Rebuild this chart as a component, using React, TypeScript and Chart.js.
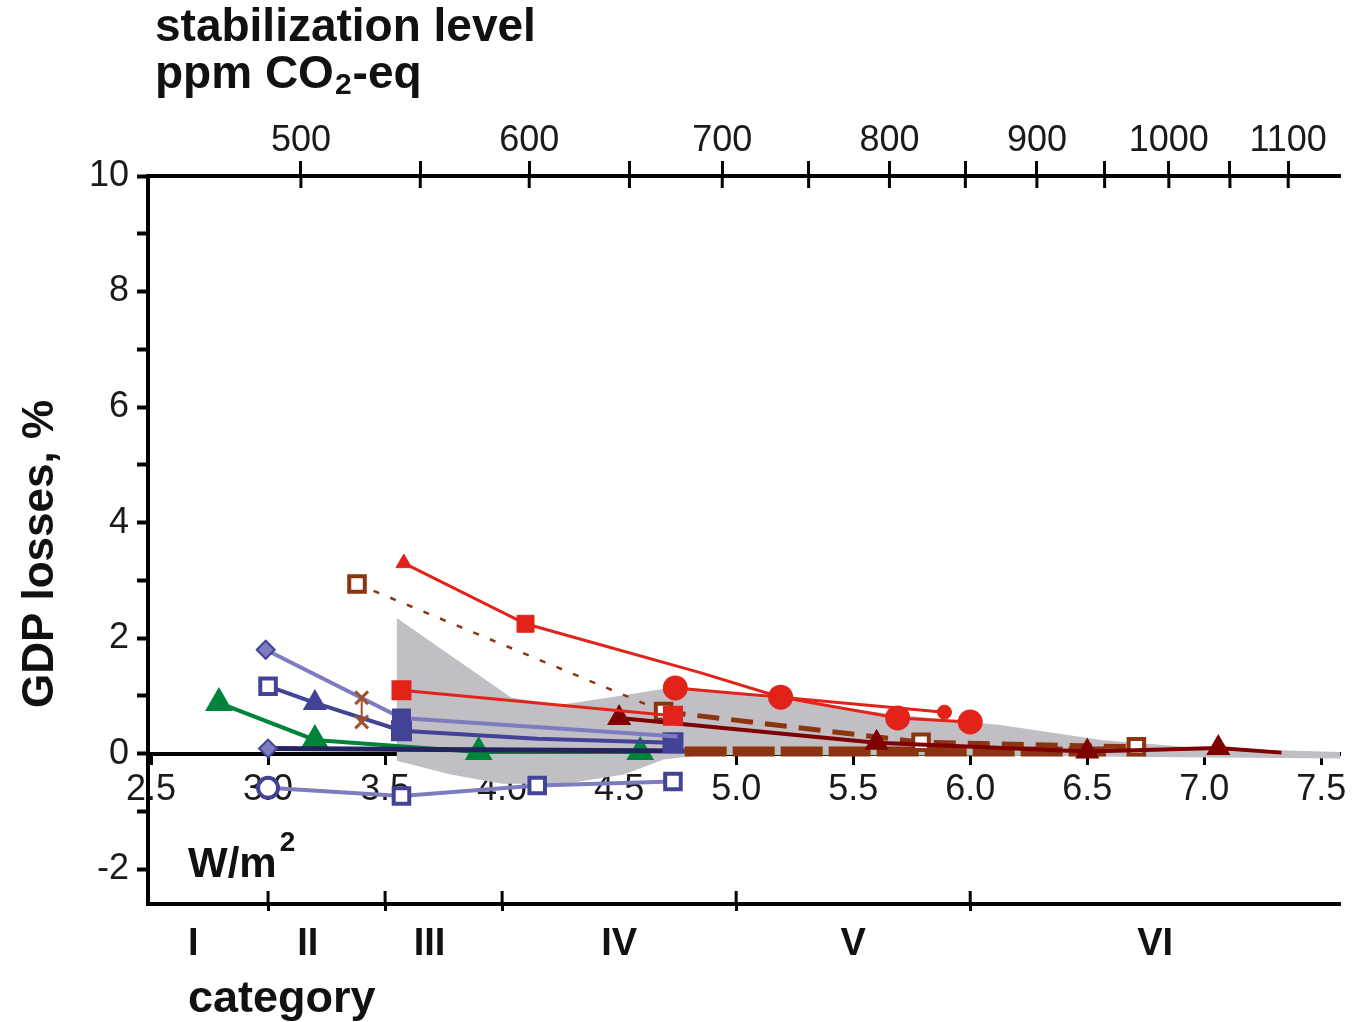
import React, { useEffect, useRef } from 'react';
import { Chart, registerables } from 'chart.js';

Chart.register(...registerables);

// ---------- axes ----------
const X_MIN = 2.487;
const X_MAX = 7.58;
const Y_MIN = -2.6;
const Y_MAX = 10;
const forcingTicks = [2.5, 3.0, 3.5, 4.0, 4.5, 5.0, 5.5, 6.0, 6.5, 7.0, 7.5];
const gdpTicks = [-2, -1, 0, 1, 2, 3, 4, 5, 6, 7, 8, 9, 10];
const gdpTickLabels = ['-2', '', '0', '', '2', '', '4', '', '6', '', '8', '', '10'];
const ppmTicks = [500, 550, 600, 650, 700, 750, 800, 850, 900, 950, 1000, 1050, 1100];
const ppmTickLabels = ['500', '', '600', '', '700', '', '800', '', '900', '', '1000', '', '1100'];
const categoryBounds = [3.0, 3.5, 4.0, 5.0, 6.0];
const categoryNames = ['I', 'II', 'III', 'IV', 'V', 'VI'];
const categoryLabelPos = [2.68, 3.17, 3.69, 4.5, 5.5, 6.79];

// ---------- series (forcing W/m2, GDP loss %) ----------
const redTriF = [3.58, 4.10, 4.85, 5.19, 5.89];
const redTriG = [3.30, 2.25, 1.40, 0.98, 0.72];
const redCircF = [4.74, 5.19, 5.69, 6.00];
const redCircG = [1.14, 0.98, 0.62, 0.55];
const redSqF = [3.57, 4.73];
const redSqG = [1.10, 0.66];
const darkRedF = [4.50, 5.60, 6.50, 7.06, 7.33];
const darkRedG = [0.62, 0.19, 0.04, 0.10, 0.02];
const brownDashF = [3.38, 4.69, 5.79, 6.71];
const brownDashG = [2.94, 0.73, 0.20, 0.12];
const brownBarF = [4.78, 6.58];
const brownBarG = [0.04, 0.04];
const brownCrossF = [3.40, 3.40];
const brownCrossG = [0.97, 0.55];
const blueDiaF = [2.99, 3.57, 4.75];
const blueDiaG = [1.80, 0.62, 0.30];
const blueSqF = [3.00, 3.20, 3.57, 4.15, 4.73];
const blueSqG = [1.17, 0.88, 0.40, 0.26, 0.19];
const blueZeroF = [3.00, 4.78];
const blueZeroG = [0.09, 0.05];
const blueLowF = [3.00, 3.57, 4.15, 4.73];
const blueLowG = [-0.59, -0.73, -0.55, -0.48];
const greenF = [2.79, 3.20, 3.90, 4.59];
const greenG = [0.88, 0.24, 0.03, 0.03];
const rangeF = [3.55, 4.04, 4.25, 4.50, 4.76, 5.19, 5.70, 6.13, 6.56, 6.98, 7.58, 7.58, 6.00, 4.86, 4.69, 4.52, 4.27, 4.00, 3.78, 3.55, 3.55];
const rangeG = [2.35, 0.97, 0.85, 1.00, 1.17, 0.93, 0.67, 0.50, 0.24, 0.10, 0.03, -0.08, -0.03, -0.02, -0.10, -0.36, -0.52, -0.52, -0.36, -0.12, 2.35];

const RED = '#e2231a';
const DARKRED = '#7e0000';
const BROWN = '#8c3310';
const BLUE = '#424296';
const BLUE_LIGHT = '#7c7cbf';
const NAVY = '#23235e';
const GREEN = '#00843c';
const GRAY = '#c1bfc3';
const FONT = '"Liberation Sans", Arial, Helvetica, sans-serif';

const pts = (f: number[], g: number[]) => f.map((v, i) => ({ x: v, y: g[i] }));

function series(label: string, f: number[], g: number[], o: any) {
  return {
    label,
    data: pts(f, g),
    showLine: true,
    tension: 0,
    fill: false,
    xAxisID: 'x',
    yAxisID: 'y',
    ...o,
  };
}

const overlayPlugin = {
  id: 'overlayTexts',
  afterDraw(chart: any) {
    const ctx = chart.ctx;
    const area = chart.chartArea;
    ctx.save();
    // inward tick marks of the top (ppm) axis and of the category axis
    ctx.strokeStyle = '#000';
    ctx.lineWidth = 3;
    const x2 = chart.scales.x2;
    ppmTicks.forEach((p) => {
      const px = x2.getPixelForValue(5.35 * Math.log(p / 278));
      ctx.beginPath();
      ctx.moveTo(px, area.top);
      ctx.lineTo(px, area.top + 12);
      ctx.stroke();
    });
    const x3 = chart.scales.x3;
    categoryBounds.forEach((b) => {
      const px = x3.getPixelForValue(b);
      ctx.beginPath();
      ctx.moveTo(px, area.bottom);
      ctx.lineTo(px, area.bottom - 13);
      ctx.stroke();
    });

    ctx.fillStyle = '#111';
    ctx.textAlign = 'left';
    ctx.textBaseline = 'alphabetic';
    // title
    ctx.font = `bold 46px ${FONT}`;
    ctx.fillText('stabilization level', 155, 41);
    let x = 155;
    const y = 88;
    ctx.fillText('ppm CO', x, y);
    x += ctx.measureText('ppm CO').width;
    ctx.font = `bold 30px ${FONT}`;
    ctx.fillText('2', x + 1, y + 6);
    x += ctx.measureText('2').width + 2;
    ctx.font = `bold 46px ${FONT}`;
    ctx.fillText('-eq', x, y);

    // W/m2
    ctx.font = `bold 42px ${FONT}`;
    ctx.fillText('W/m', 188, 877);
    const wx = 188 + ctx.measureText('W/m').width;
    ctx.font = `bold 28px ${FONT}`;
    ctx.fillText('2', wx + 3, 851);

    // category
    ctx.font = `bold 45px ${FONT}`;
    ctx.fillText('category', 188, 1012);

    // y title
    ctx.save();
    ctx.translate(53, 554);
    ctx.rotate(-Math.PI / 2);
    ctx.textAlign = 'center';
    ctx.font = `bold 44px ${FONT}`;
    ctx.fillText('GDP losses, %', 0, 0);
    ctx.restore();

    ctx.restore();
  },
};

export default function App() {
  const ref = useRef<HTMLCanvasElement | null>(null);

  useEffect(() => {
    if (!ref.current) return;
    const tickFont = { family: FONT, size: 36 };
    const datasets: any[] = [
      series('red triangles', redTriF, redTriG, {
        borderColor: RED, borderWidth: 3,
        pointStyle: ['triangle', 'rect', 'circle', 'circle', 'circle'],
        pointRadius: [9, 12, 0, 0, 7],
        pointBackgroundColor: RED, pointBorderColor: RED, pointBorderWidth: 1,
      }),
      series('red circles', redCircF, redCircG, {
        borderColor: RED, borderWidth: 3,
        pointStyle: 'circle', pointRadius: 11,
        pointBackgroundColor: RED, pointBorderColor: RED,
      }),
      series('red squares', redSqF, redSqG, {
        borderColor: RED, borderWidth: 3,
        pointStyle: 'rect', pointRadius: 12,
        pointBackgroundColor: RED, pointBorderColor: RED,
      }),
      series('dark red triangles', darkRedF, darkRedG, {
        borderColor: DARKRED, borderWidth: 4,
        pointStyle: 'triangle', pointRadius: [10, 10, 10, 10, 0],
        pointBackgroundColor: DARKRED, pointBorderColor: DARKRED,
      }),
      series('brown open squares', brownDashF, brownDashG, {
        borderColor: BROWN, borderWidth: 4, borderDash: [20, 12],
        segment: {
          borderWidth: (c: any) => (c.p0DataIndex === 0 ? 2.5 : 5),
          borderDash: (c: any) => (c.p0DataIndex === 0 ? [6, 12] : [22, 12]),
        },
        pointStyle: 'rect', pointRadius: 11,
        pointBackgroundColor: '#ffffff', pointBorderColor: BROWN, pointBorderWidth: 4,
      }),
      series('brown bars', brownBarF, brownBarG, {
        borderColor: BROWN, borderWidth: 10, borderDash: [42, 6],
        pointRadius: 0,
      }),
      series('brown cross', brownCrossF, brownCrossG, {
        borderColor: '#a0522d', borderWidth: 2,
        pointStyle: 'crossRot', pointRadius: 9,
        pointBorderColor: '#a0522d', pointBorderWidth: 3,
      }),
      series('blue diamonds', blueDiaF, blueDiaG, {
        borderColor: BLUE_LIGHT, borderWidth: 4,
        pointStyle: ['rectRot', 'rect', 'rect'], pointRadius: [9, 12, 0],
        pointBackgroundColor: [BLUE_LIGHT, BLUE, BLUE], pointBorderColor: [BLUE, BLUE, BLUE],
        pointBorderWidth: 2,
      }),
      series('blue squares', blueSqF, blueSqG, {
        borderColor: BLUE, borderWidth: 4,
        pointStyle: ['rect', 'triangle', 'rect', 'rect', 'rect'],
        pointRadius: [11, 10, 12, 0, 12],
        pointBackgroundColor: ['#ffffff', BLUE, BLUE, BLUE, BLUE],
        pointBorderColor: BLUE, pointBorderWidth: 4,
      }),
      series('blue zero', blueZeroF, blueZeroG, {
        borderColor: NAVY, borderWidth: 5,
        pointStyle: 'rectRot', pointRadius: [9, 0],
        pointBackgroundColor: BLUE_LIGHT, pointBorderColor: BLUE, pointBorderWidth: 2,
      }),
      series('blue low', blueLowF, blueLowG, {
        borderColor: BLUE_LIGHT, borderWidth: 4,
        pointStyle: ['circle', 'rect', 'rect', 'rect'], pointRadius: [10, 11, 11, 11],
        pointBackgroundColor: '#ffffff', pointBorderColor: BLUE, pointBorderWidth: 4,
      }),
      series('green triangles', greenF, greenG, {
        borderColor: GREEN, borderWidth: 4,
        pointStyle: 'triangle', pointRadius: 12,
        pointBackgroundColor: GREEN, pointBorderColor: GREEN,
      }),
      series('model range', rangeF, rangeG, {
        borderColor: GRAY, borderWidth: 0,
        backgroundColor: GRAY, fill: 'shape', pointRadius: 0,
      }),
    ];

    const chart = new Chart(ref.current, {
      type: 'line',
      data: { datasets },
      options: {
        animation: false,
        responsive: false,
        devicePixelRatio: 1,
        layout: { padding: { left: 0, right: 17, top: 0, bottom: 0 } },
        plugins: { legend: { display: false }, tooltip: { enabled: false }, title: { display: false } },
        elements: { line: { tension: 0 } },
        scales: {
          x: {
            type: 'linear', axis: 'x', position: { y: 0 } as any, min: X_MIN, max: X_MAX,
            afterBuildTicks: (s: any) => { s.ticks = forcingTicks.map((v) => ({ value: v })); },
            ticks: {
              autoSkip: false, maxRotation: 0, padding: 6, font: tickFont, color: '#1a1a1a',
              callback: (v: any) => Number(v).toFixed(1),
            },
            grid: { drawOnChartArea: false, drawTicks: true, tickLength: 9, tickWidth: 3, tickColor: '#000' },
            border: { display: true, color: '#000', width: 4 },
          },
          x2: {
            type: 'linear', axis: 'x', position: 'top', min: X_MIN, max: X_MAX,
            afterBuildTicks: (s: any) => { s.ticks = ppmTicks.map((p) => ({ value: 5.35 * Math.log(p / 278) })); },
            afterFit: (s: any) => { s.height = 176; },
            ticks: {
              autoSkip: false, maxRotation: 0, padding: -2, font: tickFont, color: '#1a1a1a',
              callback: (_v: any, i: number) => ppmTickLabels[i],
            },
            grid: { drawOnChartArea: false, drawTicks: true, tickLength: 15, tickWidth: 3, tickColor: '#000' },
            border: { display: true, color: '#000', width: 4 },
          },
          x3: {
            type: 'linear', axis: 'x', position: 'bottom', min: X_MIN, max: X_MAX,
            afterBuildTicks: (s: any) => {
              s.ticks = [...categoryBounds, ...categoryLabelPos].sort((a, b) => a - b).map((v) => ({ value: v }));
            },
            afterFit: (s: any) => { s.height = 118; },
            ticks: {
              autoSkip: false, maxRotation: 0, padding: 11, color: '#111',
              font: { family: FONT, size: 38, weight: 'bold' },
              callback: (v: any) => {
                const i = categoryLabelPos.indexOf(Number(v));
                return i >= 0 ? categoryNames[i] : '';
              },
            },
            grid: {
              drawOnChartArea: false, drawTicks: true, tickLength: 7, tickWidth: 3,
              tickColor: (c: any) => (c.tick && c.tick.label ? 'rgba(0,0,0,0)' : '#000'),
            },
            border: { display: true, color: '#000', width: 4 },
          },
          y: {
            type: 'linear', position: 'left', min: Y_MIN, max: Y_MAX,
            afterBuildTicks: (s: any) => { s.ticks = gdpTicks.map((v) => ({ value: v })); },
            afterFit: (s: any) => { s.width = 148; },
            ticks: {
              autoSkip: false, padding: 8, font: tickFont, color: '#1a1a1a',
              callback: (_v: any, i: number) => gdpTickLabels[i],
            },
            grid: { drawOnChartArea: false, drawTicks: true, tickLength: 11, tickWidth: 4, tickColor: '#000' },
            border: { display: true, color: '#000', width: 4 },
          },
        },
      } as any,
      plugins: [overlayPlugin],
    });
    return () => chart.destroy();
  }, []);

  return (
    <div style={{ position: 'absolute', left: 0, top: 0, width: 1357, height: 1022, background: '#fff' }}>
      <canvas ref={ref} width={1357} height={1022} style={{ display: 'block', width: 1357, height: 1022 }} />
    </div>
  );
}
